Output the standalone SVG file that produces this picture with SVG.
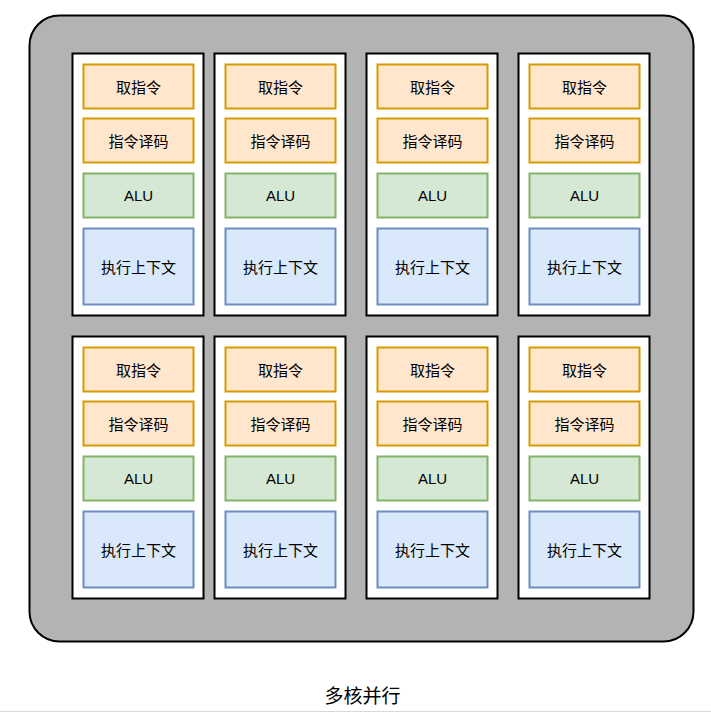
<svg xmlns="http://www.w3.org/2000/svg" width="711" height="713" viewBox="0 0 711 713">
<style>
.bg{fill:#b3b3b3;stroke:#000;stroke-width:2}
.core{fill:#fff;stroke:#000;stroke-width:2}
.o{fill:#ffe6cc;stroke:#d79b00;stroke-width:2}
.g{fill:#d5e8d4;stroke:#82b366;stroke-width:2}
.b{fill:#dae8fc;stroke:#6c8ebf;stroke-width:2}
text{font-family:"Noto Sans CJK SC","Liberation Sans",sans-serif;font-size:15px;fill:#000;text-anchor:middle;dominant-baseline:central}
text.en{font-family:"Liberation Sans","Noto Sans CJK SC",sans-serif}
.t{font-size:19px}
</style>
<rect id="chip" class="bg" x="29.5" y="15.5" width="664" height="626" rx="30" ry="30"/>
<g id="core1" transform="translate(72.5,53.5)">
<rect class="core" x="0" y="0" width="131" height="262"/>
<rect class="o" x="11" y="11" width="110" height="44"/><text x="66" y="33">取指令</text>
<rect class="o" x="11" y="65" width="110" height="44"/><text x="66" y="87">指令译码</text>
<rect class="g" x="11" y="120" width="110" height="44"/><text class="en" x="66" y="142">ALU</text>
<rect class="b" x="11" y="175" width="110" height="76"/><text x="66" y="213">执行上下文</text>
</g>
<g id="core2" transform="translate(214.5,53.5)">
<rect class="core" x="0" y="0" width="131" height="262"/>
<rect class="o" x="11" y="11" width="110" height="44"/><text x="66" y="33">取指令</text>
<rect class="o" x="11" y="65" width="110" height="44"/><text x="66" y="87">指令译码</text>
<rect class="g" x="11" y="120" width="110" height="44"/><text class="en" x="66" y="142">ALU</text>
<rect class="b" x="11" y="175" width="110" height="76"/><text x="66" y="213">执行上下文</text>
</g>
<g id="core3" transform="translate(366.5,53.5)">
<rect class="core" x="0" y="0" width="131" height="262"/>
<rect class="o" x="11" y="11" width="110" height="44"/><text x="66" y="33">取指令</text>
<rect class="o" x="11" y="65" width="110" height="44"/><text x="66" y="87">指令译码</text>
<rect class="g" x="11" y="120" width="110" height="44"/><text class="en" x="66" y="142">ALU</text>
<rect class="b" x="11" y="175" width="110" height="76"/><text x="66" y="213">执行上下文</text>
</g>
<g id="core4" transform="translate(518.5,53.5)">
<rect class="core" x="0" y="0" width="131" height="262"/>
<rect class="o" x="11" y="11" width="110" height="44"/><text x="66" y="33">取指令</text>
<rect class="o" x="11" y="65" width="110" height="44"/><text x="66" y="87">指令译码</text>
<rect class="g" x="11" y="120" width="110" height="44"/><text class="en" x="66" y="142">ALU</text>
<rect class="b" x="11" y="175" width="110" height="76"/><text x="66" y="213">执行上下文</text>
</g>
<g id="core5" transform="translate(72.5,336.5)">
<rect class="core" x="0" y="0" width="131" height="262"/>
<rect class="o" x="11" y="11" width="110" height="44"/><text x="66" y="33">取指令</text>
<rect class="o" x="11" y="65" width="110" height="44"/><text x="66" y="87">指令译码</text>
<rect class="g" x="11" y="120" width="110" height="44"/><text class="en" x="66" y="142">ALU</text>
<rect class="b" x="11" y="175" width="110" height="76"/><text x="66" y="213">执行上下文</text>
</g>
<g id="core6" transform="translate(214.5,336.5)">
<rect class="core" x="0" y="0" width="131" height="262"/>
<rect class="o" x="11" y="11" width="110" height="44"/><text x="66" y="33">取指令</text>
<rect class="o" x="11" y="65" width="110" height="44"/><text x="66" y="87">指令译码</text>
<rect class="g" x="11" y="120" width="110" height="44"/><text class="en" x="66" y="142">ALU</text>
<rect class="b" x="11" y="175" width="110" height="76"/><text x="66" y="213">执行上下文</text>
</g>
<g id="core7" transform="translate(366.5,336.5)">
<rect class="core" x="0" y="0" width="131" height="262"/>
<rect class="o" x="11" y="11" width="110" height="44"/><text x="66" y="33">取指令</text>
<rect class="o" x="11" y="65" width="110" height="44"/><text x="66" y="87">指令译码</text>
<rect class="g" x="11" y="120" width="110" height="44"/><text class="en" x="66" y="142">ALU</text>
<rect class="b" x="11" y="175" width="110" height="76"/><text x="66" y="213">执行上下文</text>
</g>
<g id="core8" transform="translate(518.5,336.5)">
<rect class="core" x="0" y="0" width="131" height="262"/>
<rect class="o" x="11" y="11" width="110" height="44"/><text x="66" y="33">取指令</text>
<rect class="o" x="11" y="65" width="110" height="44"/><text x="66" y="87">指令译码</text>
<rect class="g" x="11" y="120" width="110" height="44"/><text class="en" x="66" y="142">ALU</text>
<rect class="b" x="11" y="175" width="110" height="76"/><text x="66" y="213">执行上下文</text>
</g>
<g id="connectors"/>
<text id="title" class="t" x="362.5" y="694">多核并行</text>
<line x1="0" y1="711.5" x2="711" y2="711.5" stroke="#d9d9d9" stroke-width="1"/>
</svg>
